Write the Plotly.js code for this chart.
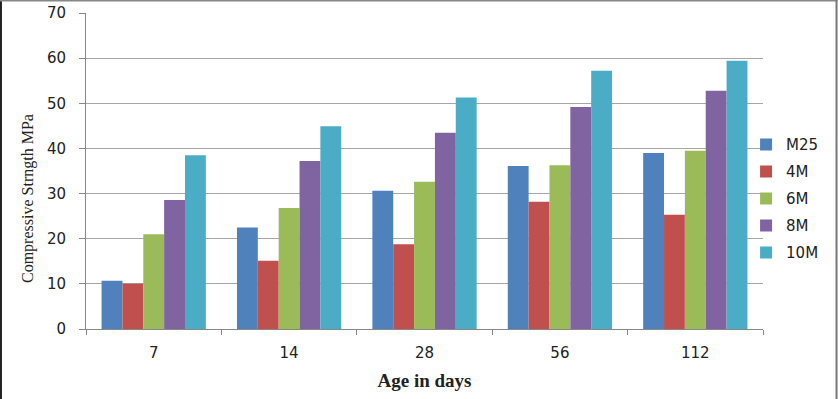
<!DOCTYPE html>
<html><head><meta charset="utf-8">
<script src="https://cdn.plot.ly/plotly-3.0.1.min.js"></script>
<style>html,body{margin:0;padding:0;background:#fff}#c{width:838px;height:399px}</style>
</head><body><div id="c"></div>
<script>
const ages = ['7', '14', '28', '56', '112'];
const seriesNames = ['M25', '4M', '6M', '8M', '10M'];
const M25 = [10.7, 22.5, 30.6, 36.1, 39.0];
const M4 = [10.0, 15.1, 18.8, 28.2, 25.3];
const M6 = [21.0, 26.8, 32.6, 36.3, 39.5];
const M8 = [28.6, 37.2, 43.5, 49.2, 52.8];
const M10 = [38.5, 44.9, 51.3, 57.2, 59.4];
const yTicks = [0, 10, 20, 30, 40, 50, 60, 70];
const colors = ['#4F81BD', '#C0504D', '#9BBB59', '#8064A2', '#4BACC6'];

const values = [M25, M4, M6, M8, M10];
const traces = values.map((v, i) => ({
  type: 'bar', x: ages, y: v, name: seriesNames[i],
  legendgroup: 'g' + i,
  marker: {color: colors[i], line: {width: 0}}
}));

const layout = {
  width: 838, height: 399,
  margin: {l: 86, r: 75, t: 13, b: 70},
  paper_bgcolor: '#fff', plot_bgcolor: '#fff',
  barmode: 'group', bargap: 0.23, bargroupgap: 0,
  font: {family: 'DejaVu Sans, Verdana, sans-serif', color: '#222', size: 14},
  xaxis: {
    type: 'category', tickson: 'boundaries', ticks: 'outside', ticklen: 5,
    tickcolor: '#888', showline: true, linecolor: '#888', linewidth: 1,
    showgrid: false, tickfont: {size: 15, color: '#222'}, ticklabelstandoff: 10,
    title: {text: 'Age in days', standoff: 12,
      font: {family: 'Liberation Serif, Times New Roman, serif', size: 19, color: '#222', weight: 'bold'}}
  },
  yaxis: {
    range: [0, 70], tickvals: yTicks, ticks: 'outside', ticklen: 6, tickcolor: '#888',
    showline: true, linecolor: '#888', linewidth: 1,
    showgrid: true, gridcolor: '#a6a6a6', gridwidth: 1, zeroline: false,
    tickfont: {size: 15, color: '#222'}, ticklabelstandoff: 10
  },
  legend: {
    x: 0.975, xanchor: 'left', y: 0.635, yanchor: 'top',
    font: {size: 15, color: '#222'}, traceorder: 'grouped', tracegroupgap: 4.5,
    itemwidth: 30, bgcolor: 'rgba(0,0,0,0)'
  },
  annotations: [{
    text: 'Compressive Strngth MPa', textangle: -90, showarrow: false,
    xref: 'paper', yref: 'paper', x: (28 - 86) / 677, y: (329 - 199) / 316,
    xanchor: 'center', yanchor: 'middle',
    font: {family: 'Liberation Serif, Times New Roman, serif', size: 16, color: '#222'}
  }],
  shapes: [
    {type: 'line', xref: 'paper', yref: 'paper', x0: -0.1256, x1: -0.1256, y0: -0.23, y1: 1.045, line: {color: '#222', width: 2}},
    {type: 'line', xref: 'paper', yref: 'paper', x0: -0.13, x1: 1.11, y0: 1.0396, y1: 1.0396, line: {color: '#888', width: 2}},
    {type: 'line', xref: 'paper', yref: 'paper', x0: 1.1086, x1: 1.1086, y0: -0.23, y1: 1.045, line: {color: '#777', width: 2}}
  ],
  showlegend: true
};
Plotly.newPlot('c', traces, layout, {displayModeBar: false, staticPlot: true});
</script></body></html>
